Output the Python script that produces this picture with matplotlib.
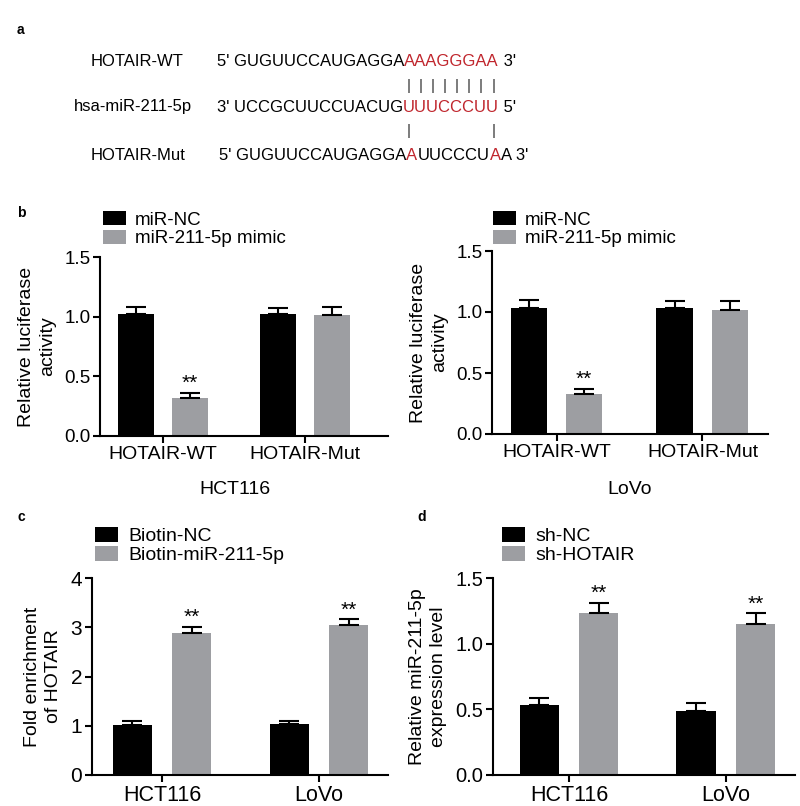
import matplotlib
matplotlib.use('Agg')
import matplotlib.pyplot as plt
from matplotlib.patches import Patch

plt.rcParams['font.family'] = ['Liberation Sans', 'DejaVu Sans']

W, H = 800, 806
GRAY = '#9d9ea2'

# === data ===
seq_wt = [("5' GUGUUCCAUGAGGA", 'black'), ("AAAGGGAA", '#c0262d'), (" 3'", 'black')]
seq_mir = [("3' UCCGCUUCCUACUG", 'black'), ("UUUCCCUU", '#c0262d'), (" 5'", 'black')]
seq_mut = [("5' GUGUUCCAUGAGGA", 'black'), ("A", '#c0262d'), ("UUCCCU", 'black'),
           ("A", '#c0262d'), ("A 3'", 'black')]

luc_groups = ['HOTAIR-WT', 'HOTAIR-Mut']
hct_nc = [1.02, 1.02]
hct_nc_err = [0.06, 0.05]
hct_mimic = [0.32, 1.01]
hct_mimic_err = [0.04, 0.07]
lovo_nc = [1.03, 1.03]
lovo_nc_err = [0.07, 0.06]
lovo_mimic = [0.33, 1.02]
lovo_mimic_err = [0.04, 0.07]
luc_sig = [True, False]

cells = ['HCT116', 'LoVo']
biotin_nc = [1.02, 1.03]
biotin_nc_err = [0.07, 0.06]
biotin_mir = [2.89, 3.05]
biotin_mir_err = [0.11, 0.11]
sh_nc = [0.53, 0.49]
sh_nc_err = [0.06, 0.06]
sh_hotair = [1.23, 1.15]
sh_hotair_err = [0.08, 0.08]
cell_sig = [True, True]


def fx(x):
    return x / W


def fy(y):
    return 1 - y / H


fig = plt.figure(figsize=(8, 8.06), dpi=100)
renderer = fig.canvas.get_renderer()

# ========== a: sequences ==========
SEQ_FS = 12


def text_w(s, fs):
    t = fig.text(0, 0, s, fontsize=fs)
    w, _, _ = renderer.get_text_width_height_descent(s, t.get_fontproperties(), ismath=False)
    t.remove()
    return w


def draw_seq(x, y, parts):
    centers = []
    for s, c in parts:
        fig.text(fx(x), fy(y), s, fontsize=SEQ_FS, color=c, va='center', ha='left')
        if c != 'black':
            for i in range(len(s)):
                a = text_w(s[:i], SEQ_FS) if i else 0
                b = text_w(s[:i + 1], SEQ_FS)
                centers.append(x + (a + b) / 2)
        x += text_w(s, SEQ_FS)
    return centers


fig.text(fx(17), fy(30), 'a', fontsize=10, fontweight='bold', va='center')
fig.text(fx(91), fy(61), 'HOTAIR-WT', fontsize=SEQ_FS, va='center')
fig.text(fx(74), fy(107), 'hsa-miR-211-5p', fontsize=SEQ_FS, va='center')
fig.text(fx(91), fy(155), 'HOTAIR-Mut', fontsize=SEQ_FS, va='center')
draw_seq(217, 61, seq_wt)
mir_c = draw_seq(217, 107, seq_mir)
draw_seq(219, 155, seq_mut)
for cx in mir_c:
    fig.text(fx(cx), fy(86), '|', fontsize=11, color='#333333', ha='center', va='center')
for cx in (mir_c[0], mir_c[-1]):
    fig.text(fx(cx), fy(131), '|', fontsize=11, color='#333333', ha='center', va='center')


# ========== bar panels ==========
def bar_panel(rect, labels, a, a_err, b, b_err, sig, ylim, yticks, yticklabels,
              ylabel, xlim, tick_fs, xtick_fs, names, leg_xy, leg_fs):
    ax = fig.add_axes(rect)
    pos = list(range(len(labels)))
    w, off = 0.25, 0.19
    xa = [p - off for p in pos]
    xb = [p + off for p in pos]
    ax.bar(xa, a, width=w, color='black', label=names[0])
    ax.bar(xb, b, width=w, color=GRAY, label=names[1])
    ax.errorbar(xa, a, yerr=[[0] * len(a), a_err], fmt='none', ecolor='black',
                elinewidth=1.5, capsize=7, capthick=1.5)
    ax.errorbar(xb, b, yerr=[[0] * len(b), b_err], fmt='none', ecolor='black',
                elinewidth=1.5, capsize=7, capthick=1.5)
    for x, v, e, s in zip(xb, b, b_err, sig):
        if s:
            ax.text(x, v + e, '**', ha='center', va='bottom', fontsize=15)
    ax.set_xlim(*xlim)
    ax.set_ylim(*ylim)
    ax.set_yticks(yticks)
    ax.set_yticklabels(yticklabels, fontsize=tick_fs)
    ax.set_xticks(pos)
    ax.set_xticklabels(labels, fontsize=xtick_fs)
    ax.set_ylabel(ylabel, fontsize=14, linespacing=1.3, labelpad=6)
    for sp in ('top', 'right'):
        ax.spines[sp].set_visible(False)
    for sp in ('left', 'bottom'):
        ax.spines[sp].set_linewidth(1.5)
    ax.tick_params(width=1.5, length=5, pad=2)
    ax.legend(handles=[Patch(fc='black'), Patch(fc=GRAY)], labels=names,
              loc='upper left', bbox_to_anchor=(fx(leg_xy[0]), fy(leg_xy[1])),
              bbox_transform=fig.transFigure, frameon=False, fontsize=leg_fs,
              handlelength=1.2, handleheight=0.8, handletextpad=0.5,
              labelspacing=0.05, borderpad=0, borderaxespad=0)
    return ax


def rect(l, t, r, b):
    return [fx(l), fy(b), fx(r) - fx(l), fy(t) - fy(b)]


fig.text(fx(17), fy(213), 'b', fontsize=10, fontweight='bold', va='center')
fig.text(fx(17), fy(517), 'c', fontsize=10, fontweight='bold', va='center')
fig.text(fx(417), fy(517), 'd', fontsize=10, fontweight='bold', va='center')

luc_ticks = [0.0, 0.5, 1.0, 1.5]
luc_labels = ['0.0', '0.5', '1.0', '1.5']
mimic_names = ['miR-NC', 'miR-211-5p mimic']

bar_panel(rect(100, 257, 388, 436), luc_groups, hct_nc, hct_nc_err, hct_mimic,
          hct_mimic_err, luc_sig, (0, 1.5), luc_ticks, luc_labels,
          'Relative luciferase\nactivity', (-0.444, 1.585), 13.5, 14, mimic_names,
          (103, 211), 13.5)
bar_panel(rect(492, 251, 768, 434), luc_groups, lovo_nc, lovo_nc_err, lovo_mimic,
          lovo_mimic_err, luc_sig, (0, 1.5), luc_ticks, luc_labels,
          'Relative luciferase\nactivity', (-0.442, 1.449), 13.5, 14, mimic_names,
          (493, 211), 13.5)
fig.text(fx(235), fy(489), 'HCT116', fontsize=14, ha='center', va='center')
fig.text(fx(630), fy(489), 'LoVo', fontsize=14, ha='center', va='center')

bar_panel(rect(92, 578, 388, 775), cells, biotin_nc, biotin_nc_err, biotin_mir,
          biotin_mir_err, cell_sig, (0, 4), [0, 1, 2, 3, 4], ['0', '1', '2', '3', '4'],
          'Fold enrichment\nof HOTAIR', (-0.446, 1.44), 15, 15.5,
          ['Biotin-NC', 'Biotin-miR-211-5p'], (95, 527), 14)
bar_panel(rect(493, 578, 795, 775), cells, sh_nc, sh_nc_err, sh_hotair,
          sh_hotair_err, cell_sig, (0, 1.5), luc_ticks, luc_labels,
          'Relative miR-211-5p\nexpression level', (-0.484, 1.44), 14.5, 15.5,
          ['sh-NC', 'sh-HOTAIR'], (502, 527), 14)

fig.savefig('out.png', dpi=100)
